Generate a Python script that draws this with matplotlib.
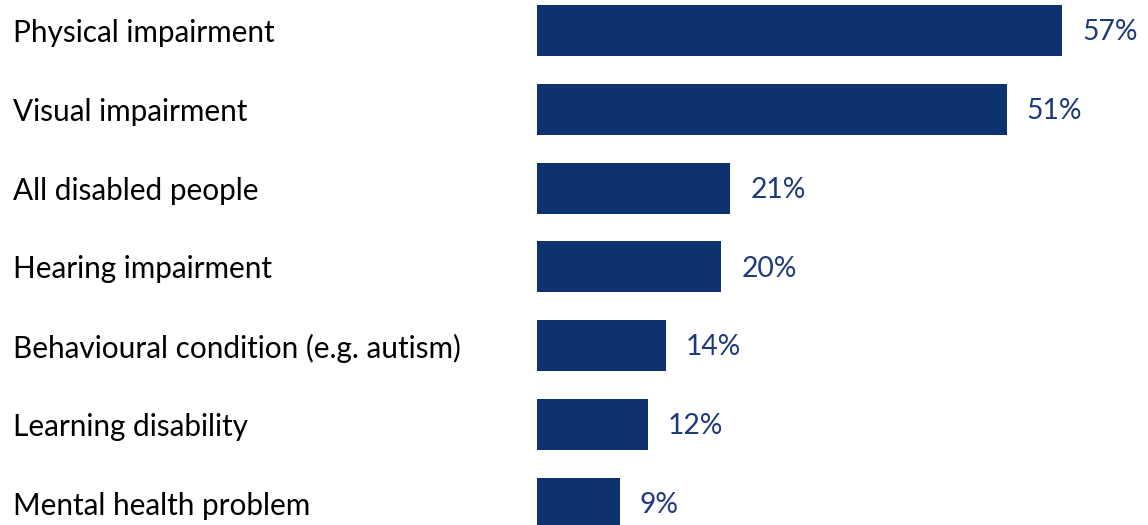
import matplotlib
matplotlib.use("Agg")
import matplotlib.pyplot as plt

categories = [
    "Physical impairment",
    "Visual impairment",
    "All disabled people",
    "Hearing impairment",
    "Behavioural condition (e.g. autism)",
    "Learning disability",
    "Mental health problem",
]
values = [57, 51, 21, 20, 14, 12, 9]
value_labels = ["57%", "51%", "21%", "20%", "14%", "12%", "9%"]

BAR_COLOR = "#0e3170"
LABEL_COLOR = "#1f3a7a"
FONT = ["Lato", "DejaVu Sans"]

W, H, DPI = 1148, 525, 100
fig = plt.figure(figsize=(W / DPI, H / DPI), dpi=DPI)

left_px = 537
ax = fig.add_axes([left_px / W, 0, 1 - left_px / W, 1])

px_per_unit_x = 525 / 57
ax.set_xlim(0, (W - left_px) / px_per_unit_x)
row_px = 78.83
top = -0.3235 - 5 / row_px
ax.set_ylim(top + H / row_px, top)

ypos = list(range(len(categories)))
ax.barh(ypos, values, height=0.647, color=BAR_COLOR)

for y, v, lab in zip(ypos, values, value_labels):
    ax.annotate(lab, xy=(v, y), xytext=(14.4, -1.2), textcoords="offset points",
                va="center", ha="left", fontsize=20.3, color=LABEL_COLOR,
                family=FONT)

for y, cat in zip(ypos, categories):
    _, yf = fig.transFigure.inverted().transform(ax.transData.transform((0, y)))
    fig.text(13 / W, yf - 2.5 / H, cat, ha="left", va="center", fontsize=21.4,
             color="black", family=FONT)

ax.axis("off")
fig.savefig("out.png", dpi=DPI)
